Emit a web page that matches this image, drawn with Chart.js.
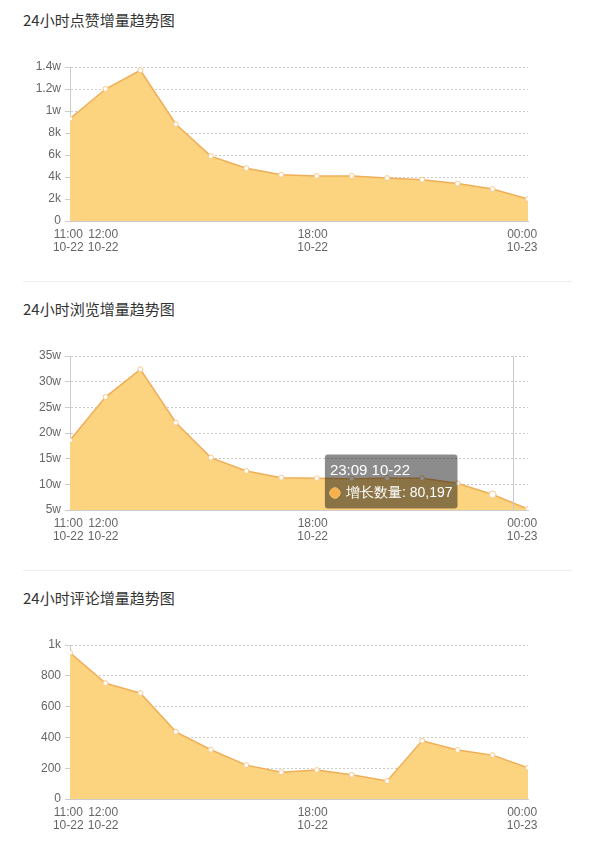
<!DOCTYPE html>
<html>
<head>
<meta charset="utf-8">
<script src="https://cdn.jsdelivr.net/npm/chart.js@4.4.0/dist/chart.umd.min.js"></script>
<style>
body{margin:0;background:#fff;width:600px;height:864px;position:relative;overflow:hidden;font-family:"Noto Sans","Noto Sans CJK SC",sans-serif}
.title{position:absolute;left:23px;font-size:15px;color:#333;line-height:20px;font-family:"Noto Sans CJK SC",sans-serif}
.sep{position:absolute;left:23px;width:549px;height:1px;background:#eee}
.box{position:absolute;left:0;width:600px;height:225px}
</style>
</head>
<body>
<div class="title" style="top:10px">24小时点赞增量趋势图</div>
<div class="box" style="top:40px"><canvas id="likes"></canvas></div>
<div class="sep" style="top:281px"></div>
<div class="title" style="top:299px">24小时浏览增量趋势图</div>
<div class="box" style="top:329px"><canvas id="views"></canvas></div>
<div class="sep" style="top:570px"></div>
<div class="title" style="top:588px">24小时评论增量趋势图</div>
<div class="box" style="top:618px"><canvas id="comments"></canvas></div>
<script>
// sample times, roughly hourly
var times = ['11:03','12:04','13:04','14:05','15:05','16:06','17:06','18:07','19:07','20:08','21:08','22:09','23:09','00:10']
var dates = ['10-22','10-22','10-22','10-22','10-22','10-22','10-22','10-22','10-22','10-22','10-22','10-22','10-22','10-23']

var likes = [9300, 12000, 13700, 8800, 5900, 4800, 4200, 4100, 4100, 3900, 3750, 3400, 2900, 2000]
var views = [186000, 270000, 324000, 220000, 152000, 126000, 113000, 112000, 111000, 112000, 112000, 102000, 80197, 52000]
var comments = [950, 752, 687, 436, 320, 220, 174, 188, 157, 117, 378, 318, 285, 203]

var likesTicks = [0, 2000, 4000, 6000, 8000, 10000, 12000, 14000]
var viewsTicks = [50000, 100000, 150000, 200000, 250000, 300000, 350000]
var commentsTicks = [0, 200, 400, 600, 800, 1000]

var xTickLabels = ['11:00', '12:00', '18:00', '00:00']
var xTickDates = ['10-22', '10-22', '10-22', '10-23']

var hoverIndex = 12        // point under the tooltip in the views chart
var crosshairTime = '23:45'

function toHour(t, d){
	var p = t.split(':')
	var h = +p[0] + p[1] / 60
	if(d == '10-23') h += 24
	return h
}

var hours = times.map(function(t, i){ return toHour(t, dates[i]) })
var tickHours = xTickLabels.map(function(t, i){ return toHour(t, xTickDates[i]) })

function fmtY(v){
	if(v >= 10000) return (v / 10000) + 'w'
	if(v >= 1000) return (v / 1000) + 'k'
	return '' + v
}

Chart.Tooltip.positioners.beside = function(items){
	if(!items.length) return false
	var el = items[0].element
	return {x: el.x - 35, y: el.y - 13, xAlign: 'right', yAlign: 'center'}
}

var crosshair = {
	id: 'crosshair',
	afterDatasetsDraw: function(chart){
		if(chart.canvas.id != 'views') return
		var x = chart.scales.x.getPixelForValue(toHour(crosshairTime, '10-22'))
		var ctx = chart.ctx
		ctx.save()
		ctx.strokeStyle = '#c8c8c8'
		ctx.lineWidth = 1
		ctx.beginPath()
		ctx.moveTo(Math.round(x) + 0.5, chart.chartArea.top)
		ctx.lineTo(Math.round(x) + 0.5, chart.chartArea.bottom)
		ctx.stroke()
		ctx.restore()
	}
}

function makeChart(id, values, yTicks){
	var ctx = document.getElementById(id).getContext('2d')
	return new Chart(ctx, {
		type: 'line',
		data: {
			datasets: [{
				label: '增长数量',
				data: values.map(function(v, i){ return {x: hours[i], y: v} }),
				borderColor: '#F0AE58',
				borderWidth: 1.5,
				backgroundColor: '#FCD480',
				fill: 'start',
				tension: 0,
				pointRadius: 2.5,
				pointBackgroundColor: '#fff',
				pointBorderColor: '#F6C88A',
				pointBorderWidth: 1,
				pointHoverRadius: 3.5,
				pointHoverBackgroundColor: '#fff',
				pointHoverBorderColor: '#F6C88A',
				pointHoverBorderWidth: 1
			}]
		},
		plugins: [crosshair],
		options: {
			responsive: true,
			maintainAspectRatio: false,
			animation: false,
			events: [],
			layout: {padding: {left: 10, right: 72, top: 27, bottom: 10}},
			plugins: {
				legend: {display: false},
				tooltip: {
					enabled: true,
					position: 'beside',
					xAlign: 'right',
					yAlign: 'center',
					backgroundColor: 'rgba(0,0,0,0.45)',
					titleColor: '#fff',
					bodyColor: '#fff',
					titleFont: {size: 15, weight: 'normal'},
					bodyFont: {size: 14},
					padding: {left: 5, right: 5, top: 7, bottom: 7},
					titleMarginBottom: 5,
					cornerRadius: 3,
					caretSize: 0,
					caretPadding: 0,
					displayColors: true,
					usePointStyle: true,
					boxWidth: 10,
					boxHeight: 10,
					boxPadding: 4,
					callbacks: {
						title: function(items){ var i = items[0].dataIndex; return times[i] + ' ' + dates[i] },
						label: function(item){ return '增长数量: ' + item.raw.y.toLocaleString('en-US') },
						labelColor: function(){ return {borderColor: '#F7B04A', backgroundColor: '#F7B04A'} },
						labelPointStyle: function(){ return {pointStyle: 'circle', rotation: 0} }
					}
				}
			},
			scales: {
				x: {
					type: 'linear',
					min: hours[0],
					max: hours[hours.length - 1],
					grid: {display: false, drawTicks: false},
					border: {display: true, color: '#ccc'},
					afterBuildTicks: function(s){ s.ticks = tickHours.map(function(v){ return {value: v} }) },
					afterFit: function(s){ s.height = 34 },
					ticks: {
						autoSkip: false,
						maxRotation: 0,
						padding: 7,
						color: '#666',
						font: {size: 12, lineHeight: 1.1},
						callback: function(v, i){ return [xTickLabels[i], xTickDates[i]] }
					}
				},
				y: {
					min: yTicks[0],
					max: yTicks[yTicks.length - 1],
					afterBuildTicks: function(s){ s.ticks = yTicks.map(function(v){ return {value: v} }) },
					afterFit: function(s){ s.width = 60 },
					grid: {color: '#ccc', drawTicks: true, tickLength: 5, tickColor: '#ccc'},
					border: {display: true, color: '#ccc', dash: [2, 2]},
					ticks: {
						padding: 4,
						color: '#666',
						font: {size: 12},
						callback: function(v){ return fmtY(v) }
					}
				}
			}
		}
	})
}

makeChart('likes', likes, likesTicks)
var viewsChart = makeChart('views', views, viewsTicks)
makeChart('comments', comments, commentsTicks)

viewsChart.setActiveElements([{datasetIndex: 0, index: hoverIndex}])
viewsChart.tooltip.setActiveElements([{datasetIndex: 0, index: hoverIndex}], {x: 0, y: 0})
viewsChart.update()
</script>
</body>
</html>
